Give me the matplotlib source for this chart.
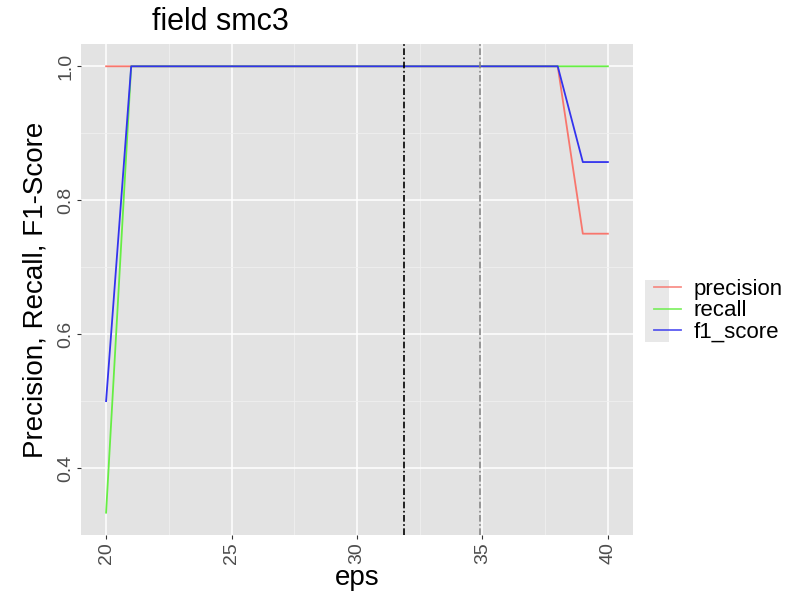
import numpy as np
import matplotlib
matplotlib.use('Agg')
import matplotlib.pyplot as plt
from matplotlib.ticker import MultipleLocator
from matplotlib.patches import Rectangle

plt.rcParams['font.family'] = ['Liberation Sans', 'DejaVu Sans']

eps = list(range(20, 41))
precision = [1.0] * 19 + [0.75, 0.75]
recall = [1 / 3] + [1.0] * 20
f1_score = [0.5] + [1.0] * 18 + [0.857, 0.857]
vlines = [31.87, 34.9]

fig = plt.figure(figsize=(7.89, 5.91), dpi=100)
ax = fig.add_axes([81 / 789, 1 - 535 / 591, (633 - 81) / 789, (535 - 44) / 591])
ax.set_facecolor('#e3e3e3')

ax.plot(eps, precision, color='#f8766d', lw=1.3, label='precision')
ax.plot(eps, recall, color='#66ee44', lw=1.3, label='recall')
ax.plot(eps, f1_score, color='#3333ee', lw=1.3, label='f1_score')
ax.axvline(vlines[0], color='black', lw=1.2, ls=(0, (4, 1.5, 1, 1.5)))
ax.axvline(vlines[1], color='#888888', lw=1.2, ls=(0, (4, 1.5, 1, 1.5)))

ax.set_xlim(19, 41)
ax.set_ylim(0.3, 1.0333)
ax.xaxis.set_major_locator(MultipleLocator(5))
ax.xaxis.set_minor_locator(MultipleLocator(2.5))
ax.yaxis.set_major_locator(MultipleLocator(0.2))
ax.yaxis.set_minor_locator(MultipleLocator(0.1))
ax.yaxis.set_major_formatter(plt.FuncFormatter(lambda v, p: f'{v:.1f}'))
ax.grid(which='major', color='white', lw=1.1)
ax.grid(which='minor', color='#f0f0f0', lw=0.6)
ax.set_axisbelow(True)
for s in ax.spines.values():
    s.set_visible(False)
ax.tick_params(which='both', length=3, color='#333333', pad=2)
ax.tick_params(which='minor', length=0)
ax.tick_params(axis='both', labelsize=14, labelcolor='#4d4d4d')
for lab in ax.get_xticklabels() + ax.get_yticklabels():
    lab.set_rotation(90)
    lab.set_va('center')
for lab in ax.get_xticklabels():
    lab.set_va('top')
fig.text(357 / 789, 1 - 578 / 591, 'eps', fontsize=20, ha='center', va='center')
ax.set_ylabel('Precision, Recall, F1-Score', fontsize=20, labelpad=6)
fig.text(152 / 789, 1 - 22 / 591, 'field smc3', fontsize=22, va='center', ha='left')

fig.patches.append(Rectangle((645 / 789, 1 - 342 / 591), 24 / 789, 62 / 591,
                             transform=fig.transFigure, facecolor='#e8e8e8',
                             edgecolor='none', zorder=0))
leg = fig.legend(loc='center left', bbox_to_anchor=(645 / 789, 1 - 311 / 591),
                 frameon=False, fontsize=16, handlelength=1.2, handletextpad=0.6,
                 labelspacing=0.02, borderaxespad=0)
for h in leg.legend_handles:
    h.set_alpha(0.8)

fig.savefig('out.png', dpi=100)
